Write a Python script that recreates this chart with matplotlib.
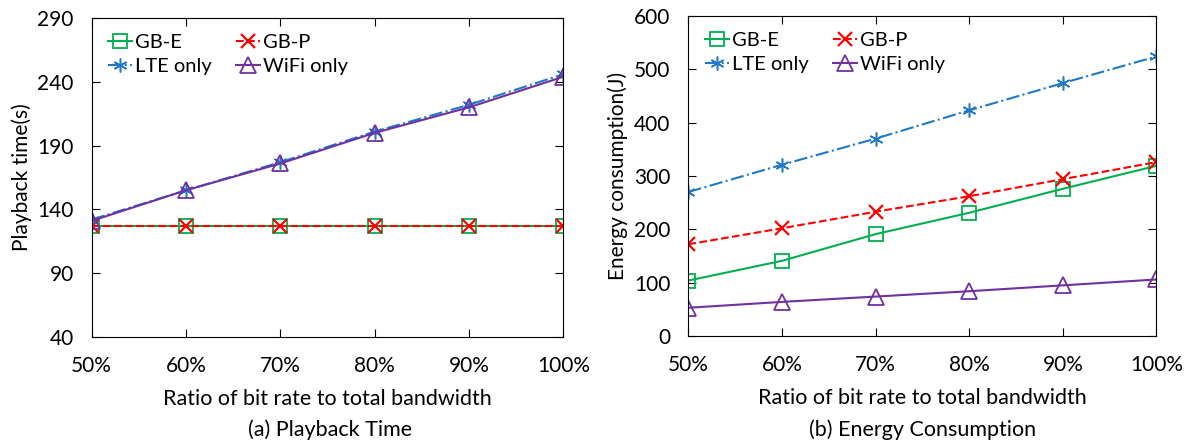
import numpy as np
import matplotlib
matplotlib.use('Agg')
from matplotlib import pyplot as plt

plt.rcParams['font.family'] = ['Lato', 'DejaVu Sans']
plt.rcParams['font.size'] = 14

# data
ratios = ['50%', '60%', '70%', '80%', '90%', '100%']

play_gbe = [127, 127, 127, 127, 127, 127]
play_gbp = [127, 127, 127, 127, 127, 127]
play_lte = [132, 155, 177, 201, 222, 246]
play_wifi = [131, 155, 176, 200, 220, 244]

energy_gbe = [104, 141, 191, 231, 276, 319]
energy_gbp = [172, 202, 233, 262, 294, 326]
energy_lte = [270, 321, 370, 423, 474, 524]
energy_wifi = [53, 64, 74, 84, 95, 106]

GREEN = '#00B050'
RED = '#FF0000'
BLUE = '#1F78C8'
PURPLE = '#7030A0'


def draw(ax, gbe, gbp, lte, wifi):
    x = np.arange(len(ratios))
    h1, = ax.plot(x, gbe, color=GREEN, ls='-', lw=1.5, marker='s', ms=10,
                  mfc='none', mew=1.3, label='GB-E')
    h2, = ax.plot(x, gbp, color=RED, ls='--', lw=1.5, marker='x', ms=10,
                  mew=1.6, label='GB-P')
    h3, = ax.plot(x, lte, color=BLUE, ls='-.', lw=1.5, marker=(6, 2, 0), ms=10,
                  mew=1.1, label='LTE only')
    h4, = ax.plot(x, wifi, color=PURPLE, ls='-', lw=1.5, marker='^', ms=11,
                  mfc='none', mew=1.3, label='WiFi only')
    ax.set_xticks(x)
    ax.set_xticklabels(ratios)
    ax.set_xlim(0, len(ratios) - 1)
    ax.tick_params(direction='in', top=True, right=True, length=6,
                   labelsize=15)
    ax.tick_params(axis='x', pad=14)
    ax.tick_params(axis='y', pad=13)
    ax.set_xlabel('Ratio of bit rate to total bandwidth', fontsize=15.5, labelpad=9)
    # row-major legend order like the original
    ax.legend([h1, h3, h2, h4], ['GB-E', 'LTE only', 'GB-P', 'WiFi only'],
              ncol=2, loc='upper left', frameon=False, fontsize=14.5,
              handlelength=1.2, handletextpad=0.15, columnspacing=1.2,
              labelspacing=0.35, borderaxespad=0.4)


fig = plt.figure(figsize=(11.91, 4.41), dpi=100)

ax1 = fig.add_axes([0.077, 0.236, 0.396, 0.723])
draw(ax1, play_gbe, play_gbp, play_lte, play_wifi)
ax1.set_ylim(40, 290)
ax1.set_yticks([40, 90, 140, 190, 240, 290])
ax1.set_ylabel('Playback time(s)', fontsize=15, labelpad=4)
fig.text(0.277, 0.012, '(a) Playback Time', ha='center', fontsize=15.5)

ax2 = fig.add_axes([0.578, 0.238, 0.393, 0.726])
draw(ax2, energy_gbe, energy_gbp, energy_lte, energy_wifi)
ax2.set_ylim(0, 600)
ax2.set_yticks([0, 100, 200, 300, 400, 500, 600])
ax2.set_ylabel('Energy consumption(J)', fontsize=15, labelpad=4)
fig.text(0.775, 0.012, '(b) Energy Consumption', ha='center', fontsize=15.5)

fig.savefig('out.png', dpi=100)
